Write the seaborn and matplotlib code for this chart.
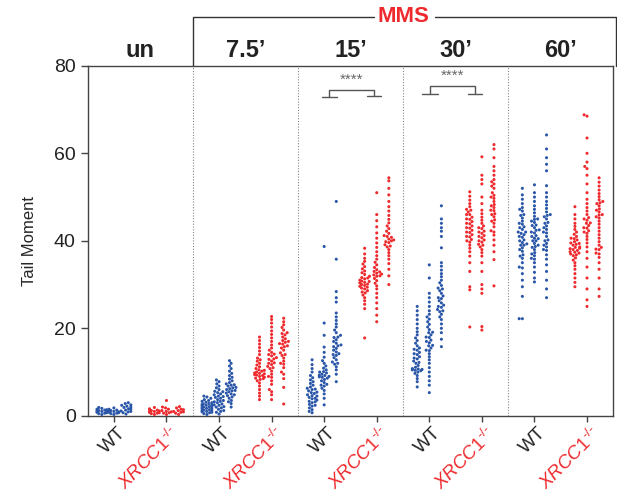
import numpy as np
import pandas as pd
import matplotlib
matplotlib.use("Agg")
import matplotlib.pyplot as plt
import matplotlib.transforms as mtransforms
import seaborn as sns

# time points (group labels) and genotypes
groups = ["un", "7.5\u2019", "15\u2019", "30\u2019", "60\u2019"]
genotypes = ["WT", "XRCC1"]

# tail moment per replicate (3 replicates per condition)
un_wt = [
    [0.3, 0.5, 0.6, 0.8, 0.9, 1.0, 1.1, 1.2, 1.4, 1.5, 1.7, 1.9, 0.7, 1.3],
    [0.3, 0.5, 0.7, 0.8, 0.9, 1.0, 1.2, 1.3, 1.5, 1.8, 0.6, 1.1],
    [0.4, 0.7, 1.0, 1.3, 1.6, 1.9, 2.2, 2.5, 2.8, 3.0, 1.1, 1.5, 2.0, 0.9, 2.4],
]
un_ko = [
    [0.3, 0.5, 0.7, 0.8, 0.9, 1.0, 1.2, 1.4, 1.6, 1.9, 0.6, 1.1, 1.3],
    [0.3, 0.6, 0.9, 1.2, 1.5, 1.8, 2.0, 3.5, 1.0, 0.7],
    [0.3, 0.6, 0.9, 1.2, 1.5, 1.8, 2.1, 1.0, 1.4, 0.8],
]
t7_wt = [
    [0.3, 0.5, 0.7, 0.8, 1.0, 1.1, 1.2, 1.4, 1.5, 1.6, 1.8, 1.9, 2.0, 2.1, 2.3, 2.4, 2.5, 2.7, 2.8, 3.0, 3.1, 3.3, 3.5, 3.7, 4.0, 4.3, 4.5, 1.3, 1.7, 2.2, 0.9, 2.6],
    [0.4, 0.8, 1.2, 1.5, 1.8, 2.1, 2.4, 2.7, 3.0, 3.2, 3.5, 3.7, 4.0, 4.2, 4.5, 4.8, 5.0, 5.3, 5.6, 6.0, 6.4, 6.8, 7.3, 7.8, 8.2, 1.0, 2.0, 3.3, 4.4, 2.5, 5.5],
    [2.0, 2.8, 3.5, 4.0, 4.3, 4.6, 5.0, 5.2, 5.5, 5.8, 6.0, 6.2, 6.5, 6.8, 7.0, 7.3, 7.6, 8.0, 8.4, 8.8, 9.2, 9.7, 10.2, 10.8, 11.4, 12.0, 12.6, 4.8, 5.7, 6.4, 7.1, 3.2],
]
t7_ko = [
    [3.7, 4.5, 5.2, 6.0, 6.8, 7.5, 8.0, 8.3, 8.6, 8.8, 9.0, 9.2, 9.4, 9.6, 9.8, 10.0, 10.2, 10.5, 10.8, 11.2, 11.6, 12.0, 12.5, 13.2, 14.0, 14.8, 15.6, 16.4, 17.2, 18.0, 8.5, 9.3, 9.7, 10.4, 12.8],
    [3.7, 4.8, 6.0, 7.2, 8.0, 8.8, 9.5, 10.2, 10.8, 11.3, 11.7, 12.1, 12.5, 12.9, 13.3, 13.7, 14.1, 14.5, 15.0, 15.5, 16.2, 17.0, 17.8, 18.6, 19.4, 20.3, 21.2, 22.0, 22.7, 12.0, 13.0, 14.0, 11.0, 9.0, 5.5],
    [2.7, 6.5, 8.5, 10.0, 11.0, 11.8, 12.5, 13.2, 13.8, 14.4, 15.0, 15.5, 16.0, 16.4, 16.8, 17.2, 17.6, 18.0, 18.5, 19.0, 19.6, 20.2, 20.8, 21.5, 22.3, 16.5, 17.0, 15.8, 14.0, 12.0, 18.8, 9.5],
]
t15_wt = [
    [0.7, 1.0, 1.4, 1.8, 2.2, 2.6, 3.0, 3.3, 3.6, 3.9, 4.2, 4.5, 4.8, 5.1, 5.4, 5.7, 6.0, 6.3, 6.6, 7.0, 7.4, 7.8, 8.2, 8.7, 9.2, 10.0, 10.8, 11.7, 12.8, 3.2, 4.0, 4.6, 5.3, 6.1, 2.4],
    [2.5, 4.0, 5.0, 5.8, 6.3, 6.8, 7.2, 7.6, 8.0, 8.3, 8.6, 8.9, 9.2, 9.5, 9.8, 10.1, 10.5, 10.9, 11.4, 12.0, 12.6, 13.4, 14.5, 15.7, 18.4, 21.2, 38.7, 9.0, 9.3, 8.8, 7.0, 10.0],
    [7.8, 9.5, 10.5, 11.2, 11.8, 12.3, 12.8, 13.3, 13.8, 14.2, 14.6, 15.0, 15.4, 15.8, 16.2, 16.6, 17.0, 17.4, 17.9, 18.4, 19.0, 19.6, 20.3, 21.0, 21.8, 22.6, 23.5, 26.0, 27.0, 28.4, 35.8, 49.0, 14.0, 16.0, 18.0, 12.0],
]
t15_ko = [
    [17.8, 24.5, 25.5, 26.3, 27.0, 27.6, 28.1, 28.6, 29.0, 29.4, 29.8, 30.1, 30.4, 30.7, 31.0, 31.3, 31.6, 31.9, 32.3, 32.7, 33.1, 33.6, 34.1, 34.7, 35.3, 36.0, 37.0, 38.3, 29.2, 30.0, 30.8, 31.5, 28.3, 29.6, 30.5],
    [21.5, 23.0, 24.5, 25.8, 27.0, 28.0, 29.0, 29.7, 30.3, 30.9, 31.4, 31.9, 32.4, 32.9, 33.4, 33.9, 34.5, 35.1, 35.8, 36.6, 37.5, 38.5, 39.5, 40.6, 41.8, 43.2, 44.6, 46.0, 51.0, 32.0, 32.2, 32.6, 33.0],
    [30.0, 32.0, 33.5, 34.8, 35.8, 36.6, 37.3, 38.0, 38.6, 39.1, 39.6, 40.0, 40.4, 40.8, 41.2, 41.7, 42.2, 42.8, 43.4, 44.1, 44.9, 45.8, 46.8, 47.8, 49.0, 50.5, 52.0, 53.7, 54.4, 40.2, 39.8, 41.0, 38.8],
]
t30_wt = [
    [6.6, 7.8, 8.5, 9.2, 9.7, 10.0, 10.3, 10.5, 10.6, 10.8, 11.1, 11.5, 12.0, 12.5, 13.0, 13.5, 14.0, 14.5, 15.0, 15.5, 16.0, 16.6, 17.2, 17.8, 18.5, 19.2, 20.0, 21.0, 22.0, 23.0, 24.0, 25.0, 10.4, 10.7, 13.2, 15.2, 12.2, 14.2],
    [5.3, 7.0, 8.0, 9.0, 10.0, 11.0, 12.0, 12.8, 13.5, 14.2, 14.9, 15.5, 16.1, 16.7, 17.3, 17.9, 18.5, 19.1, 19.7, 20.3, 20.9, 21.5, 22.1, 22.6, 23.2, 24.0, 25.0, 26.0, 27.0, 28.0, 31.5, 34.5, 17.0, 18.0, 19.0, 15.0, 16.0],
    [15.8, 17.5, 19.0, 20.0, 21.0, 22.0, 22.6, 23.2, 23.8, 24.3, 24.8, 25.3, 25.8, 26.3, 26.8, 27.4, 28.0, 28.6, 29.2, 29.8, 30.4, 31.0, 31.8, 32.5, 33.3, 34.2, 35.0, 38.4, 41.0, 42.2, 43.0, 44.0, 45.0, 48.0, 25.0, 27.0, 29.0, 24.0],
]
t30_ko = [
    [20.3, 28.8, 29.5, 33.0, 35.0, 36.5, 37.5, 38.3, 39.0, 39.7, 40.3, 40.9, 41.4, 41.9, 42.4, 42.9, 43.4, 43.9, 44.4, 44.9, 45.4, 46.0, 46.6, 47.2, 47.8, 48.5, 49.3, 50.2, 51.2, 42.0, 43.0, 44.0, 41.0, 45.0, 40.0, 46.0, 47.0],
    [19.6, 20.4, 28.0, 29.0, 30.0, 33.0, 35.0, 36.5, 37.3, 38.0, 38.6, 39.2, 39.7, 40.2, 40.7, 41.2, 41.7, 42.2, 42.8, 43.4, 44.0, 44.7, 45.4, 46.2, 47.0, 48.5, 50.0, 53.0, 54.0, 55.0, 59.2, 40.0, 41.0, 42.0, 39.0, 43.0],
    [29.7, 35.7, 37.5, 39.0, 40.2, 41.3, 42.3, 43.2, 44.0, 44.8, 45.5, 46.2, 46.9, 47.6, 48.3, 49.0, 49.7, 50.4, 51.0, 52.0, 53.0, 54.0, 55.0, 56.0, 57.0, 59.0, 61.0, 62.0, 46.0, 47.0, 48.0, 44.5, 42.0, 50.0, 52.5, 53.5],
]
t60_wt = [
    [22.2, 22.2, 27.3, 29.5, 31.0, 32.5, 33.8, 35.0, 36.0, 36.8, 37.6, 38.4, 39.0, 39.6, 40.2, 40.8, 41.4, 42.0, 42.6, 43.2, 43.8, 44.5, 45.2, 46.0, 46.8, 47.6, 48.5, 49.5, 50.5, 52.0, 40.0, 41.0, 39.0, 42.0, 38.0, 43.0, 36.5, 44.0, 34.0, 45.8, 47.2, 39.3, 41.7],
    [30.6, 31.5, 32.8, 34.0, 35.0, 35.8, 36.6, 37.3, 38.0, 38.7, 39.4, 40.0, 40.6, 41.2, 41.8, 42.4, 43.0, 43.6, 44.2, 44.9, 45.6, 46.4, 47.2, 48.0, 49.0, 50.0, 51.0, 52.8, 41.0, 40.0, 42.0, 39.0, 38.5, 43.5, 37.0, 44.5, 36.0, 45.0, 40.5, 42.5],
    [27.0, 29.0, 31.0, 33.0, 34.5, 35.8, 36.8, 37.8, 38.6, 39.4, 40.2, 41.0, 41.8, 42.6, 43.4, 44.2, 45.0, 45.8, 46.6, 47.4, 48.2, 49.0, 50.0, 51.0, 52.6, 56.0, 57.5, 59.0, 61.0, 64.2, 42.0, 43.0, 40.0, 45.5, 38.0, 46.0, 44.0, 39.0],
]
t60_ko = [
    [29.5, 30.5, 31.5, 32.5, 33.5, 34.3, 35.0, 35.6, 36.1, 36.6, 37.0, 37.4, 37.8, 38.2, 38.6, 39.0, 39.4, 39.8, 40.2, 40.6, 41.0, 41.5, 42.0, 42.6, 43.3, 44.0, 45.0, 46.0, 47.8, 37.5, 38.0, 38.5, 39.5, 36.8, 40.5, 38.3, 39.2, 37.2],
    [25.0, 26.5, 29.0, 31.5, 34.0, 36.0, 37.5, 38.6, 39.5, 40.3, 41.0, 41.7, 42.3, 42.9, 43.5, 44.1, 44.7, 45.3, 46.0, 46.8, 47.6, 48.5, 49.5, 51.0, 53.0, 55.0, 56.5, 58.0, 60.0, 63.5, 68.5, 68.8, 44.0, 45.0, 43.0, 42.0, 57.0],
    [27.3, 29.0, 31.5, 33.5, 35.0, 36.2, 37.2, 38.1, 39.0, 39.8, 40.6, 41.4, 42.2, 43.0, 43.8, 44.5, 45.2, 45.9, 46.6, 47.3, 48.0, 48.7, 49.4, 50.1, 50.8, 51.6, 52.5, 53.4, 54.4, 46.0, 47.0, 45.5, 37.0, 38.0, 48.5, 49.0, 38.5],
]

conditions = [un_wt, un_ko, t7_wt, t7_ko, t15_wt, t15_ko, t30_wt, t30_ko, t60_wt, t60_ko]
rep_offsets = [-0.23, 0.0, 0.23]

blue = "#2a56a8"
red = "#ee2a2e"

rows = []
for i, reps in enumerate(conditions):
    for r, vals in enumerate(reps):
        for v in vals:
            rows.append({"x": i + rep_offsets[r], "geno": genotypes[i % 2], "value": v})
df = pd.DataFrame(rows)

sns.set_style("ticks")
plt.rcParams["font.family"] = ["Liberation Sans", "DejaVu Sans"]
plt.rcParams["mathtext.fontset"] = "custom"
plt.rcParams["mathtext.rm"] = "Liberation Sans"
plt.rcParams["mathtext.it"] = "Liberation Sans:italic"

fig = plt.figure(figsize=(6.17, 4.95), dpi=100)
ax = fig.add_axes([0.142, 0.160, 0.852, 0.707])

sns.swarmplot(data=df, x="x", y="value", hue="geno", native_scale=True,
              palette={"WT": blue, "XRCC1": red}, size=2.2, linewidth=0,
              legend=False, warn_thresh=1.0, ax=ax)

ax.set_xlim(-0.5, 9.5)
ax.set_ylim(0, 80)
ax.set_yticks([0, 20, 40, 60, 80])
ax.tick_params(axis="y", labelsize=14, length=5, width=1, color="#444", labelcolor="#222")
ax.tick_params(axis="x", length=4, width=1, color="#444", pad=2)
ax.set_xlabel("")
ax.set_ylabel("Tail Moment", fontsize=12, labelpad=12)
for s in ax.spines.values():
    s.set_color("#444")
    s.set_linewidth(1)

labels = ["WT" if i % 2 == 0 else r"$\mathit{XRCC1}^{\text{-/-}}$" for i in range(10)]
ax.set_xticks(range(10))
ax.set_xticklabels(labels, rotation=45, ha="right", rotation_mode="anchor", fontsize=13.5)
shift = mtransforms.ScaledTranslation(3 / 100, 0, fig.dpi_scale_trans)
for i, t in enumerate(ax.get_xticklabels()):
    t.set_color("#222" if i % 2 == 0 else red)
    t.set_transform(t.get_transform() + shift)

# dotted separators between time points
for x in [1.5, 3.5, 5.5, 7.5]:
    ax.axvline(x, color="#888", linestyle=(0, (1, 1.5)), linewidth=0.8)

# group labels above axes
trans = mtransforms.blended_transform_factory(ax.transData, ax.transAxes)
for g, name in enumerate(groups):
    ax.text(2 * g + 0.5, 1.012, name, transform=trans, ha="center", va="bottom",
            fontsize=17, fontweight="bold", color="#222")

# MMS bracket
yb = 1.14
ax.plot([1.5, 1.5, 4.95], [1.0, yb, yb], transform=trans, color="#333", lw=1, clip_on=False)
ax.plot([6.1, 9.55, 9.55], [yb, yb, 1.0], transform=trans, color="#333", lw=1, clip_on=False)
ax.text(5.5, yb, "MMS", transform=trans, ha="center", va="center",
        fontsize=16, fontweight="bold", color=red)

# significance brackets
for xl, xr, ytop, yl, yr in [(4.10, 4.94, 74.5, 72.8, 73.2), (6.01, 6.86, 75.3, 73.5, 73.5)]:
    ax.plot([xl, xl, xr, xr], [yl, ytop, ytop, yr], color="#555", lw=1)
    ax.plot([xl - 0.14, xl + 0.15], [yl, yl], color="#555", lw=1)
    ax.plot([xr - 0.12, xr + 0.14], [yr, yr], color="#555", lw=1)
    ax.text((xl + xr) / 2, ytop + 0.8, "****", ha="center", va="bottom",
            fontsize=11, color="#666")

fig.savefig("out.png", dpi=100)
